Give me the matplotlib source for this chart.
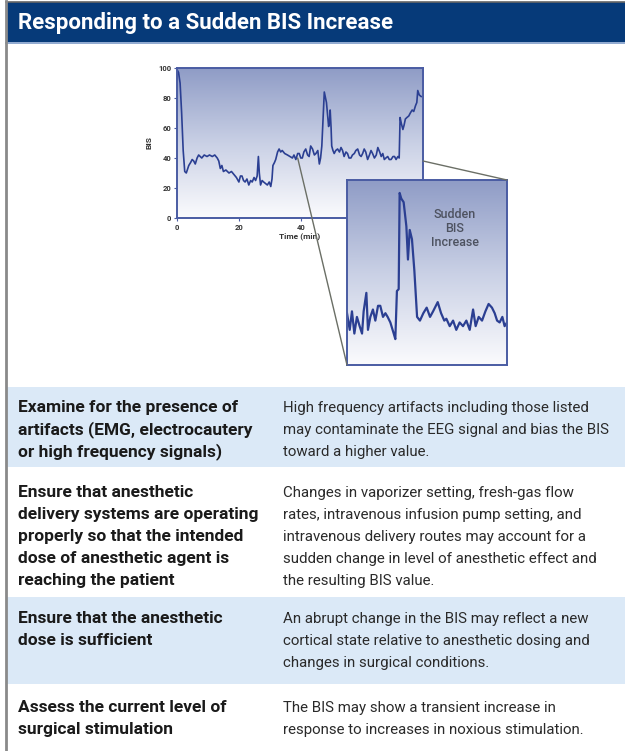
import matplotlib
matplotlib.use("Agg")
import matplotlib.pyplot as plt
from matplotlib.colors import LinearSegmentedColormap
from matplotlib.patches import Rectangle, ConnectionPatch
import numpy as np

W, H = 625, 751

# main BIS trace (minutes, BIS)
time_min = [0, 0.5, 1, 1.5, 2, 2.5, 3, 3.8, 4.4, 4.9, 5.4, 5.9, 6.5, 7, 7.5, 8, 8.8, 9.7, 10.5,
            11.4, 12.2, 13, 13.5, 14, 14.5, 15, 15.8, 16.8, 17.6, 18.4, 19.2, 20, 20.5, 21, 21.5,
            22, 22.6, 23.2, 23.8, 24.3, 24.9, 25.4, 25.9, 26.3, 26.6, 27, 27.5, 28, 28.6, 29.2,
            29.8, 30.3, 30.7, 31, 31.5, 31.9, 32.5, 33, 33.5, 34, 34.8, 35.7, 36.5, 37.3, 37.8,
            38.4, 39, 39.5, 40, 40.5, 41, 41.6, 42.2, 42.7, 43.2, 43.8, 44.4, 44.9, 45.5, 46,
            46.4, 46.8, 47.2, 47.6, 48, 48.3, 48.7, 49, 49.3, 49.5, 49.8, 50, 50.4, 50.8, 51.3,
            51.9, 52.5, 53, 53.5, 54, 54.6, 55.1, 55.6, 56.2, 56.7, 57.3, 57.8, 58.4, 59, 59.5,
            60, 60.5, 61, 61.6, 62.2, 62.7, 63.2, 63.8, 64.4, 64.9, 65.5, 66, 66.5, 67, 67.5,
            68.1, 68.6, 69.2, 69.8, 70.3, 70.8, 71.4, 71.8, 72.1, 72.5, 73, 73.4, 73.8, 74.3,
            74.9, 75.4, 76, 76.5, 77.1, 77.5, 77.8, 78.3, 78.9]
bis = [99, 97, 90, 70, 45, 31, 30, 35, 37, 39, 38, 36, 40, 42, 41, 40, 42, 41, 42,
       41, 42, 40, 38, 33, 35, 31, 32, 30, 31, 29, 27, 24, 28, 28, 25,
       24, 26, 22, 25, 24, 27, 25, 28, 41, 30, 22, 25, 24, 23, 22,
       24, 21, 26, 35, 37, 39, 44, 46, 44, 45, 43, 42, 41, 40, 42,
       39, 43, 43, 40, 40, 44, 46, 42, 41, 48, 46, 42, 43, 45, 36,
       40, 48, 66, 84, 80, 77, 68, 61, 65, 72, 60, 48, 45, 43, 45,
       46, 44, 47, 45, 41, 44, 43, 40, 40, 42, 43, 45, 46, 42, 41,
       43, 46, 44, 39, 42, 45, 43, 40, 42, 47, 44, 41, 43, 39, 40,
       41, 39, 39, 41, 41, 39, 41, 40, 67, 63, 59, 62, 66, 67,
       68, 70, 72, 71, 75, 77, 85, 82, 81]

# zoomed detail of the sudden increase
inset_x = [0, 1.7, 3.1, 4.6, 6.2, 7.9, 9.4, 10.4, 12.1, 13.1, 14.6, 16.2, 17.7, 19.4, 20.8,
           22.5, 24, 25.4, 27.1, 29.2, 30.2, 31.2, 32.3, 32.9, 33.9, 35.4, 37.1, 38.1, 39.2,
           40.6, 42.1, 43.8, 45.6, 47.7, 49.8, 51.9, 53.8, 56.7, 58.8, 60.8, 62.1, 64.2,
           66.3, 68.3, 70.4, 72.5, 74.6, 76.7, 78.8, 80.4, 82.3, 84.4, 86.5, 88.5, 90.6,
           92.3, 93.8, 95.4, 97.1, 98.5, 100]
inset_y = [28, 19, 29, 17, 26, 21, 17, 29, 39, 19, 26, 30, 24, 32, 32,
           26, 28, 26, 23, 17, 14, 40, 41, 93, 90, 88, 75, 57, 73,
           68, 51, 26, 24, 28, 31, 26, 29, 34, 28, 24, 25, 21,
           24, 19, 23, 21, 24, 19, 30, 21, 26, 24, 29, 33, 31,
           28, 24, 23, 26, 21, 23]

x_ticks = [0, 20, 40]
y_ticks = [0, 20, 40, 60, 80, 100]

left_col = [
    "Examine for the presence of\nartifacts (EMG, electrocautery\nor high frequency signals)",
    "Ensure that anesthetic\ndelivery systems are operating\nproperly so that the intended\ndose of anesthetic agent is\nreaching the patient",
    "Ensure that the anesthetic\ndose is sufficient",
    "Assess the current level of\nsurgical stimulation",
]
right_col = [
    "High frequency artifacts including those listed\nmay contaminate the EEG signal and bias the BIS\ntoward a higher value.",
    "Changes in vaporizer setting, fresh-gas flow\nrates, intravenous infusion pump setting, and\nintravenous delivery routes may account for a\nsudden change in level of anesthetic effect and\nthe resulting BIS value.",
    "An abrupt change in the BIS may reflect a new\ncortical state relative to anesthetic dosing and\nchanges in surgical conditions.",
    "The BIS may show a transient increase in\nresponse to increases in noxious stimulation.",
]
row_bounds = [(387, 467), (468, 596), (597, 684), (685, 751)]
row_first_line = [407, 492, 618, 707]
row_shaded = [True, False, True, False]
LINE_STEP = 22

plt.rcParams["font.family"] = ["Roboto", "DejaVu Sans"]

fig = plt.figure(figsize=(W / 100, H / 100), dpi=100)
fig.patch.set_facecolor("white")

page = fig.add_axes([0, 0, 1, 1])
page.set_xlim(0, W)
page.set_ylim(H, 0)
page.axis("off")

# header bar
page.add_patch(Rectangle((6, 2), W - 6, 40, facecolor="#063a79", edgecolor="none"))
page.plot([6, W], [1.5, 1.5], color="#666666", lw=1.2)
page.plot([6, W], [42.5, 42.5], color="#7d9bc8", lw=1.2)
page.plot([5.8, 5.8], [1, H], color="#8a8a8a", lw=2)
page.text(18, 23, "Responding to a Sudden BIS Increase", color="white", fontsize=16,
          fontweight="bold", va="center", ha="left")

# table rows, one text per line so the line pitch matches
for (y0, y1), y_first, shaded, ltxt, rtxt in zip(row_bounds, row_first_line, row_shaded,
                                                 left_col, right_col):
    if shaded:
        page.add_patch(Rectangle((7, y0), W - 7, y1 - y0, facecolor="#dbe9f7", edgecolor="none"))
    for i, line in enumerate(ltxt.split("\n")):
        page.text(18, y_first + i * LINE_STEP + 5, line, fontsize=12.5, fontweight="bold",
                  color="#1a1a1a", va="baseline", ha="left")
    for i, line in enumerate(rtxt.split("\n")):
        page.text(283, y_first + i * LINE_STEP + 5, line, fontsize=10.8, color="#2a2a2a",
                  va="baseline", ha="left")

grad = LinearSegmentedColormap.from_list("bg", ["#fbfbfd", "#c9d0e5", "#8f9cc6"])
line_c = "#2b3f92"
frame_c = "#4a5ca3"


def fig_rect(x0, y0, x1, y1):
    return [x0 / W, 1 - y1 / H, (x1 - x0) / W, (y1 - y0) / H]


# main chart
ax = fig.add_axes(fig_rect(177, 68, 423, 218))
ax.imshow(np.linspace(0, 1, 256).reshape(-1, 1), cmap=grad, origin="lower", aspect="auto",
          extent=[0, 1, 0, 1], transform=ax.transAxes, zorder=0)
ax.plot(time_min, bis, color=line_c, lw=1.2, zorder=2)
ax.set_xlim(0, 79.5)
ax.set_ylim(0, 100)
ax.set_xticks(x_ticks)
ax.set_yticks(y_ticks)
ax.tick_params(length=2, width=0.8, color=frame_c, labelsize=5.5, pad=2)
for lbl in ax.get_xticklabels() + ax.get_yticklabels():
    lbl.set_fontweight("bold")
    lbl.set_color("#333333")
for s in ax.spines.values():
    s.set_color(frame_c)
    s.set_linewidth(1.4)
ax.set_xlabel("Time (min)", fontsize=6, fontweight="bold", color="#333333", labelpad=1)
ax.set_ylabel("BIS", fontsize=6, fontweight="bold", color="#333333", labelpad=4)

# zoomed inset
ins = fig.add_axes(fig_rect(347, 180, 507, 365))
ins.imshow(np.linspace(0, 1, 256).reshape(-1, 1), cmap=grad, origin="lower", aspect="auto",
           extent=[0, 1, 0, 1], transform=ins.transAxes, zorder=0)
ins.plot(inset_x, inset_y, color=line_c, lw=1.6, zorder=2)
ins.set_xlim(0, 100)
ins.set_ylim(0, 100)
ins.set_xticks([])
ins.set_yticks([])
for s in ins.spines.values():
    s.set_color(frame_c)
    s.set_linewidth(1.4)
ins.text(0.675, 0.74, "Sudden\nBIS\nIncrease", transform=ins.transAxes, ha="center", va="center",
         fontsize=9, fontweight="medium", color="#4d5260", linespacing=1.1)

# zoom connector lines
for xyA, xyB in [((39, 40), (0, 0)), ((79.5, 38), (100, 100))]:
    con = ConnectionPatch(xyA=xyA, coordsA=ax.transData, xyB=xyB, coordsB=ins.transData,
                          color="#6b6f66", lw=1.0)
    fig.add_artist(con)

fig.savefig("out.png", dpi=100)
